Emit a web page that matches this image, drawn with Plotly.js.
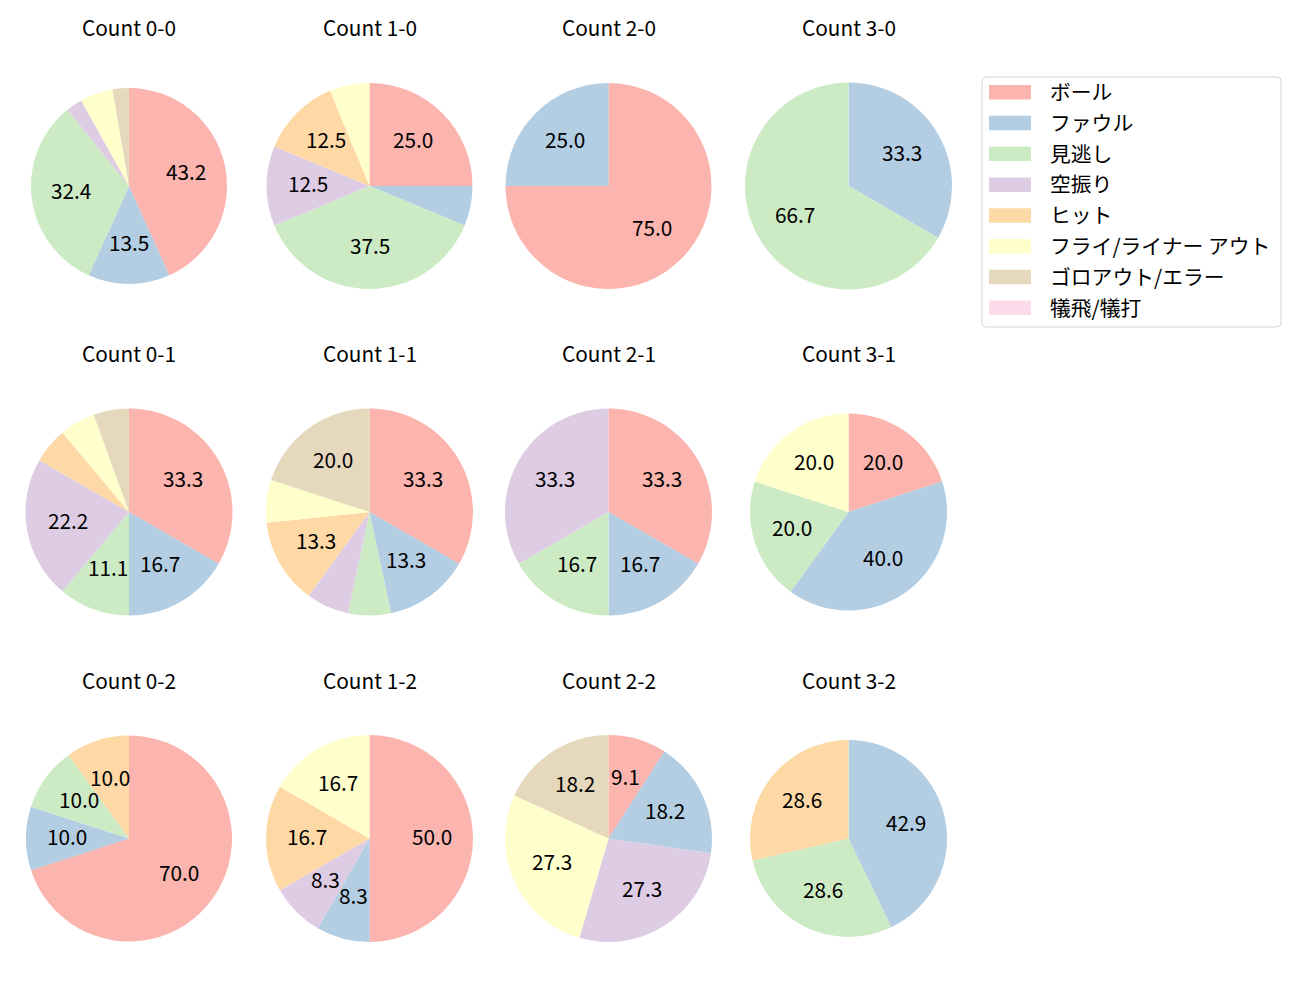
<!DOCTYPE html>
<html>
<head>
<meta charset="utf-8">
<script src="https://cdn.plot.ly/plotly-3.0.1.min.js"></script>
<style>body{margin:0;background:#fff;}</style>
</head>
<body>
<div id="chart" style="width:1300px;height:1000px;"></div>
<script>
// outcome categories (legend order) and Pastel1 colours
const labels = ['ボール', 'ファウル', '見逃し', '空振り', 'ヒット', 'フライ/ライナー アウト', 'ゴロアウト/エラー', '犠飛/犠打'];
const colors = ['#fbb4ae', '#b3cde3', '#ccebc5', '#decbe4', '#fed9a6', '#ffffcc', '#e5d8bd', '#fddaec'];

// pitch counts per outcome, one array per ball-strike count
const count00 = [16, 5, 12, 1, 0, 2, 1, 0];
const count10 = [4, 1, 6, 2, 2, 1, 0, 0];
const count20 = [3, 1, 0, 0, 0, 0, 0, 0];
const count30 = [0, 1, 2, 0, 0, 0, 0, 0];
const count01 = [6, 3, 2, 4, 1, 1, 1, 0];
const count11 = [5, 2, 1, 1, 2, 1, 3, 0];
const count21 = [2, 1, 1, 2, 0, 0, 0, 0];
const count31 = [1, 2, 1, 0, 0, 1, 0, 0];
const count02 = [7, 1, 1, 0, 1, 0, 0, 0];
const count12 = [6, 1, 0, 1, 2, 2, 0, 0];
const count22 = [1, 2, 0, 3, 0, 3, 2, 0];
const count32 = [0, 3, 2, 0, 2, 0, 0, 0];

const titles = ['Count 0-0', 'Count 1-0', 'Count 2-0', 'Count 3-0',
                'Count 0-1', 'Count 1-1', 'Count 2-1', 'Count 3-1',
                'Count 0-2', 'Count 1-2', 'Count 2-2', 'Count 3-2'];
const allCounts = [count00, count10, count20, count30,
                   count01, count11, count21, count31,
                   count02, count12, count22, count32];

// layout of the grid (pixels)
const W = 1300, H = 1000;
const colX = [129, 369.5, 608.5, 848.5];
const rowY = [186, 512, 838.5];
const radius = [98, 103, 103, 103.5,
                103.5, 103.5, 103.5, 98.5,
                103, 103.5, 103.5, 98.5];
const fontFam = '"Noto Sans CJK JP", "Noto Sans", sans-serif';
const fontSize = 20.8;

let px = v => v / W;
let py = v => 1 - v / H;

let data = [];
let annotations = [];
let shapes = [];

for (let i = 0; i < allCounts.length; i++) {
    let cx = colX[i % 4];
    let cy = rowY[Math.floor(i / 4)];
    let r = radius[i];
    let values = allCounts[i];
    data.push({
        type: 'pie',
        labels: labels,
        values: values,
        textinfo: 'none',
        sort: false,
        direction: 'clockwise',
        rotation: 0,
        marker: {colors: colors, line: {width: 0}},
        domain: {
            x: [px(cx - r), px(cx + r)],
            y: [py(cy + r), py(cy - r)]
        }
    });

    // percentage labels at 0.6 of the radius, on each slice's middle angle
    let total = values.reduce((a, b) => a + b, 0);
    let before = 0;
    for (let k = 0; k < values.length; k++) {
        let pct = values[k] / total * 100;
        let mid = (before + values[k] / 2) / total * 2 * Math.PI;
        before += values[k];
        if (pct < 7) continue; // small slices get no label
        annotations.push({
            text: pct.toFixed(1),
            xref: 'paper', yref: 'paper',
            x: px(cx + 0.6 * r * Math.sin(mid)),
            y: py(cy - 0.6 * r * Math.cos(mid) - 3), // -3: glyphs sit low in the line box
            xanchor: 'center', yanchor: 'middle',
            showarrow: false,
            font: {family: fontFam, size: fontSize, color: '#000000'}
        });
    }

    annotations.push({
        text: titles[i],
        xref: 'paper', yref: 'paper',
        x: px(cx), y: py(cy - 159),
        xanchor: 'center', yanchor: 'middle',
        showarrow: false,
        font: {family: fontFam, size: fontSize, color: '#000000'}
    });
}

// hand made legend box, so the swatches look like the wide matplotlib patches
let legLeft = 982, legRight = 1281, legTop = 77, legBottom = 327, rc = 4;
shapes.push({
    type: 'path', xref: 'paper', yref: 'paper',
    path: 'M' + px(legLeft + rc) + ',' + py(legTop) +
          ' L' + px(legRight - rc) + ',' + py(legTop) +
          ' Q' + px(legRight) + ',' + py(legTop) + ' ' + px(legRight) + ',' + py(legTop + rc) +
          ' L' + px(legRight) + ',' + py(legBottom - rc) +
          ' Q' + px(legRight) + ',' + py(legBottom) + ' ' + px(legRight - rc) + ',' + py(legBottom) +
          ' L' + px(legLeft + rc) + ',' + py(legBottom) +
          ' Q' + px(legLeft) + ',' + py(legBottom) + ' ' + px(legLeft) + ',' + py(legBottom - rc) +
          ' L' + px(legLeft) + ',' + py(legTop + rc) +
          ' Q' + px(legLeft) + ',' + py(legTop) + ' ' + px(legLeft + rc) + ',' + py(legTop) + ' Z',
    line: {color: '#d6d6d6', width: 1},
    fillcolor: 'rgba(255,255,255,0.8)'
});
for (let k = 0; k < labels.length; k++) {
    let yc = 92.5 + k * 30.8;
    shapes.push({
        type: 'rect', xref: 'paper', yref: 'paper',
        x0: px(989), x1: px(1031), y0: py(yc - 7.5), y1: py(yc + 7),
        line: {width: 0}, fillcolor: colors[k]
    });
    annotations.push({
        text: labels[k],
        xref: 'paper', yref: 'paper',
        x: px(1048), y: py(yc - 1.5),
        xanchor: 'left', yanchor: 'middle',
        showarrow: false,
        font: {family: fontFam, size: fontSize, color: '#000000'}
    });
}

let layout = {
    width: W,
    height: H,
    margin: {l: 0, r: 0, t: 0, b: 0},
    showlegend: false,
    paper_bgcolor: '#ffffff',
    plot_bgcolor: '#ffffff',
    annotations: annotations,
    shapes: shapes
};

Plotly.newPlot('chart', data, layout, {staticPlot: true});
</script>
</body>
</html>
